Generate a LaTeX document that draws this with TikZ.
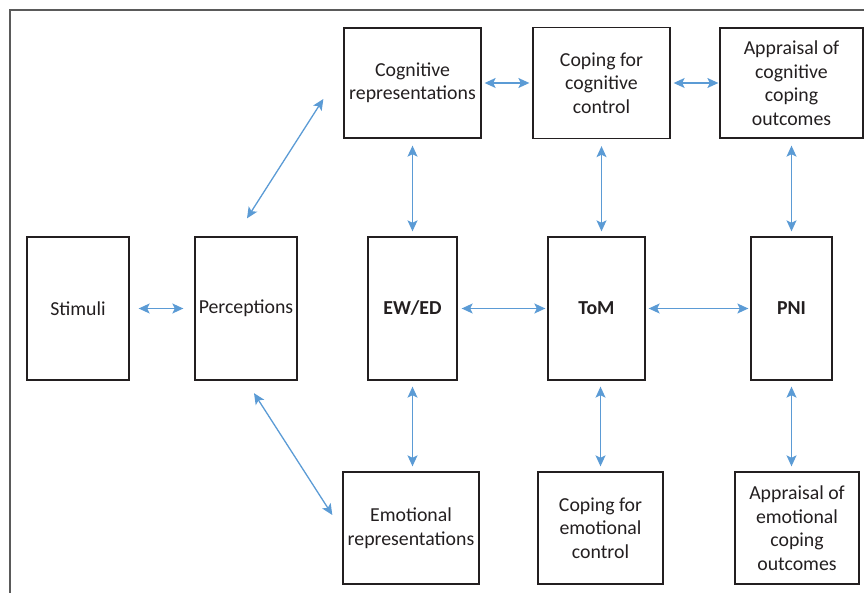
\documentclass[tikz,border=0pt]{standalone}
\usepackage{fontspec}
\setmainfont{Carlito}
\usepackage{xcolor}
\usepackage{tikz}
\usetikzlibrary{arrows.meta}

\definecolor{arrowblue}{HTML}{5B9BD5}
\definecolor{boxline}{HTML}{231F20}
\definecolor{framegray}{HTML}{5A5A5A}

\tikzset{
    box/.style={draw=boxline, line width=1.3pt, inner sep=0pt, align=center,
        text=boxline, font=\fontsize{19.8}{23.5}\selectfont},
    link/.style={arrowblue, line width=1.3pt,
        {Stealth[length=11pt,width=10pt,inset=2.5pt]}-{Stealth[length=11pt,width=10pt,inset=2.5pt]}}
}

\begin{document}
\begin{tikzpicture}[x=1pt, y=-1pt]
        \useasboundingbox (0,0) rectangle (864,593);

        % Frame
        \draw[framegray, line width=1.5pt] (10,593) -- (10,10) -- (864,10);

        % Middle row
        \node[box, minimum width=102, minimum height=143] (Stim) at (78,308.5) {Stimuli};
        \node[box, minimum width=102, minimum height=143] (Perc) at (246,308.5) {Perceptions};
        \node[box, minimum width=89, minimum height=143] (EW) at (412.5,308.5) {\textbf{EW/ED}};
        \node[box, minimum width=97, minimum height=143] (ToM) at (596.5,308.5) {\textbf{ToM}};
        \node[box, minimum width=81, minimum height=143] (PNI) at (791.5,308.5) {\textbf{PNI}};

        % Top row (cognitive)
        \node[box, minimum width=137, minimum height=110] (CogRep) at (412.5,83) {Cognitive\\representations};
        \node[box, minimum width=137, minimum height=111] (CogCop) at (601.5,83) {Coping for\\cognitive\\control};
        \node[box, minimum width=143, minimum height=110] (CogApp) at (791.5,83) {Appraisal of\\cognitive\\coping\\outcomes};

        % Bottom row (emotional)
        \node[box, minimum width=136, minimum height=112] (EmoRep) at (411,528) {Emotional\\representations};
        \node[box, minimum width=125, minimum height=112] (EmoCop) at (600.5,528) {Coping for\\emotional\\control};
        \node[box, minimum width=124, minimum height=112] (EmoApp) at (797,528) {Appraisal of\\emotional\\coping\\outcomes};

        % Horizontal links
        \draw[link, shorten <=9, shorten >=11] (Stim) -- (Perc);
        \draw[link, shorten <=4, shorten >=2] (EW) -- (ToM);
        \draw[link, shorten <=3, shorten >=2] (ToM) -- (PNI);
        \draw[link, shorten <=3, shorten >=3] (CogRep) -- (CogCop);
        \draw[link, shorten <=3, shorten >=1] (CogCop) -- (CogApp);

        % Vertical links
        \draw[link, shorten <=7, shorten >=5] (CogRep) -- (EW);
        \draw[link, shorten <=6, shorten >=5] (EW.south) -- (EW.south |- EmoRep.north);
        \draw[link, shorten <=7, shorten >=5] (CogCop.south) -- (CogCop.south |- ToM.north);
        \draw[link, shorten <=6, shorten >=5] (ToM.south -| EmoCop.north) -- (EmoCop.north);
        \draw[link, shorten <=7, shorten >=5] (CogApp) -- (PNI);
        \draw[link, shorten <=6, shorten >=5] (PNI.south) -- (PNI.south |- EmoApp.north);

        % Diagonal links from perceptions
        \draw[link] ([shift={(1,-18)}]Perc.north) -- ([shift={(-20,16)}]CogRep.west);
        \draw[link] ([shift={(8,12.5)}]Perc.south) -- ([shift={(-10,-13)}]EmoRep.west);
    \end{tikzpicture}
\end{document}
